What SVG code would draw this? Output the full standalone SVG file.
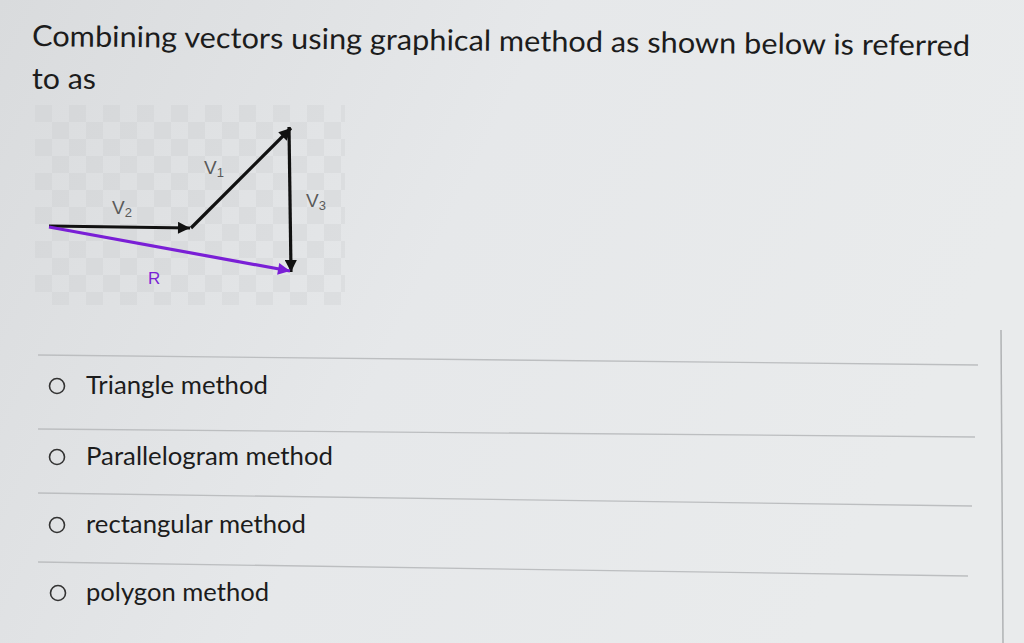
<svg xmlns="http://www.w3.org/2000/svg" width="1024" height="643" viewBox="0 0 1024 643">
<defs>
<linearGradient id="bg" x1="0" y1="0" x2="1" y2="0.3">
<stop offset="0" stop-color="#d9dbdd"/>
<stop offset="0.5" stop-color="#e6e8ea"/>
<stop offset="1" stop-color="#e9ebec"/>
</linearGradient>
<pattern id="chk" x="35" y="105" width="34" height="34" patternUnits="userSpaceOnUse">
<rect x="0" y="0" width="17" height="17" fill="#c9cbcd"/>
<rect x="17" y="17" width="17" height="17" fill="#c9cbcd"/>
</pattern>
<marker id="ah" viewBox="0 0 10 10" refX="10" refY="5" markerWidth="19" markerHeight="12" markerUnits="userSpaceOnUse" orient="auto">
<path d="M0,0 L10,5 L0,10 z" fill="#111"/>
</marker>
<marker id="ahp" viewBox="0 0 10 10" refX="10" refY="5" markerWidth="19" markerHeight="12" markerUnits="userSpaceOnUse" orient="auto">
<path d="M0,0 L10,5 L0,10 z" fill="#7a1fd6"/>
</marker>
<style>
.t{font-family:Lato,"Open Sans","Liberation Sans",sans-serif;fill:#1c1c1c}
.q{font-size:29px}
.o{font-size:25px}
.lbl{font-family:"Liberation Sans",Arial,sans-serif;font-size:19px;fill:#5a5a5a}
.sep{stroke:#bcbec0;stroke-width:1.3;fill:none}
.rad{fill:none;stroke:#333;stroke-width:1.6}
.vec{stroke:#111;stroke-width:3.2;fill:none}
</style>
</defs>
<rect width="1024" height="643" fill="url(#bg)"/>
<rect x="35" y="105" width="310" height="200" fill="url(#chk)" opacity="0.3"/>
<line x1="1001" y1="330" x2="1003" y2="643" stroke="#b0b2b4" stroke-width="1.5"/>

<g id="question">
<text class="t q" x="32" y="46" transform="rotate(0.6 32 46)" textLength="938" lengthAdjust="spacingAndGlyphs">Combining vectors using graphical method as shown below is referred</text>
<text class="t q" x="32" y="89" textLength="64" lengthAdjust="spacingAndGlyphs">to as</text>
</g>

<g id="connectors">
<line class="vec" x1="49" y1="226" x2="190" y2="228" marker-end="url(#ah)"/>
<line class="vec" x1="191" y1="228" x2="291" y2="128" marker-end="url(#ah)"/>
<line class="vec" x1="289" y1="127" x2="291" y2="272" marker-end="url(#ah)"/>
<line x1="49" y1="227" x2="290" y2="271" stroke="#7a1fd6" stroke-width="3.2" marker-end="url(#ahp)"/>
</g>
<g id="labels">
<text class="lbl" x="204" y="174">V<tspan font-size="13" dy="3">1</tspan></text>
<text class="lbl" x="112" y="214">V<tspan font-size="13" dy="3">2</tspan></text>
<text class="lbl" x="306" y="207">V<tspan font-size="13" dy="3">3</tspan></text>
<text class="lbl" x="148" y="284" style="fill:#7a1fd6;font-size:17px">R</text>
</g>

<g id="separators">
<line class="sep" x1="38" y1="355" x2="978" y2="365"/>
<line class="sep" x1="38" y1="429" x2="975" y2="437"/>
<line class="sep" x1="38" y1="493" x2="972" y2="506"/>
<line class="sep" x1="38" y1="562" x2="968" y2="576"/>
</g>

<g id="opt1">
<circle class="rad" cx="57" cy="386" r="7.5"/>
<text class="t o" x="86" y="394" textLength="182" lengthAdjust="spacingAndGlyphs">Triangle method</text>
</g>
<g id="opt2">
<circle class="rad" cx="57" cy="457" r="7.5"/>
<text class="t o" x="86" y="465" textLength="247" lengthAdjust="spacingAndGlyphs">Parallelogram method</text>
</g>
<g id="opt3">
<circle class="rad" cx="57" cy="525" r="7.5"/>
<text class="t o" x="86" y="533" textLength="220" lengthAdjust="spacingAndGlyphs">rectangular method</text>
</g>
<g id="opt4">
<circle class="rad" cx="58" cy="593" r="7.5"/>
<text class="t o" x="86" y="601" textLength="183" lengthAdjust="spacingAndGlyphs">polygon method</text>
</g>
</svg>
